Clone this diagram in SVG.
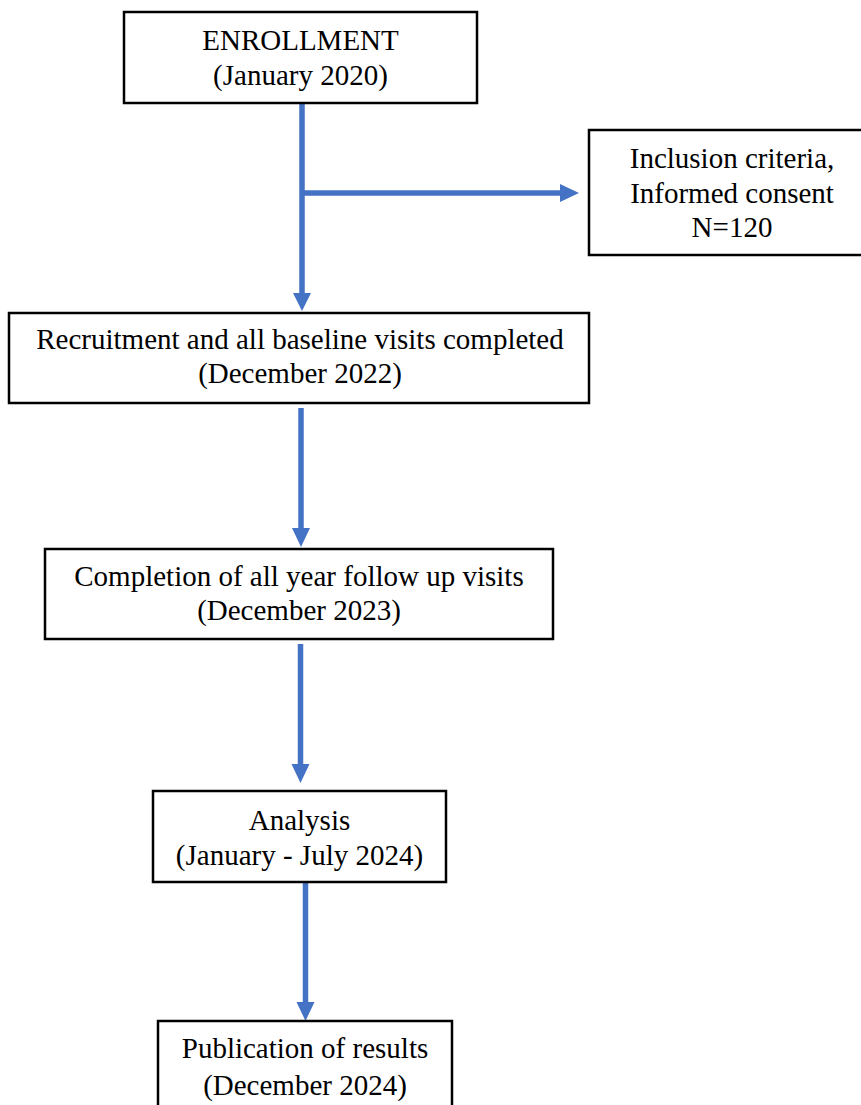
<svg xmlns="http://www.w3.org/2000/svg" width="861" height="1105" viewBox="0 0 861 1105">
<style>
.box{fill:#fff;stroke:#000;stroke-width:2.5}
.t{font-family:"Liberation Serif","Times New Roman",serif;font-size:29px;fill:#000;text-anchor:middle}
.c{stroke:#4472C4;stroke-width:5.5;fill:none}
.h{fill:#4472C4}
</style>
<rect width="861" height="1105" fill="#fff"/>
<g id="connectors">
<line class="c" x1="302" y1="103" x2="302" y2="295"/>
<polygon class="h" points="293,293 311,293 302,311"/>
<line class="c" x1="302" y1="193" x2="562" y2="193"/>
<polygon class="h" points="560,184 560,202 579,193"/>
<line class="c" x1="301" y1="408" x2="301" y2="530"/>
<polygon class="h" points="292,528 310,528 301,547"/>
<line class="c" x1="300.5" y1="644" x2="300.5" y2="766"/>
<polygon class="h" points="291.5,764 309.5,764 300.5,783"/>
<line class="c" x1="305.5" y1="882" x2="305.5" y2="1004"/>
<polygon class="h" points="296.5,1002 314.5,1002 305.5,1021"/>
</g>
<g id="enrollment">
<rect class="box" x="124" y="12" width="353" height="91"/>
<text class="t" x="300.5" y="50">ENROLLMENT</text>
<text class="t" x="300.5" y="85">(January 2020)</text>
</g>
<g id="inclusion">
<rect class="box" x="589" y="130" width="285" height="125"/>
<text class="t" x="732" y="168">Inclusion criteria,</text>
<text class="t" x="732" y="203">Informed consent</text>
<text class="t" x="732" y="237">N=120</text>
</g>
<g id="recruitment">
<rect class="box" x="9" y="313" width="580" height="90"/>
<text class="t" x="300" y="349">Recruitment and all baseline visits completed</text>
<text class="t" x="300" y="383">(December 2022)</text>
</g>
<g id="completion">
<rect class="box" x="45" y="549" width="508" height="90"/>
<text class="t" x="299" y="586">Completion of all year follow up visits</text>
<text class="t" x="299" y="620">(December 2023)</text>
</g>
<g id="analysis">
<rect class="box" x="153" y="791" width="293" height="91"/>
<text class="t" x="299.5" y="830">Analysis</text>
<text class="t" x="299.5" y="865">(January - July 2024)</text>
</g>
<g id="publication">
<rect class="box" x="158" y="1021" width="294" height="100"/>
<text class="t" x="305" y="1058">Publication of results</text>
<text class="t" x="305" y="1095">(December 2024)</text>
</g>
</svg>
